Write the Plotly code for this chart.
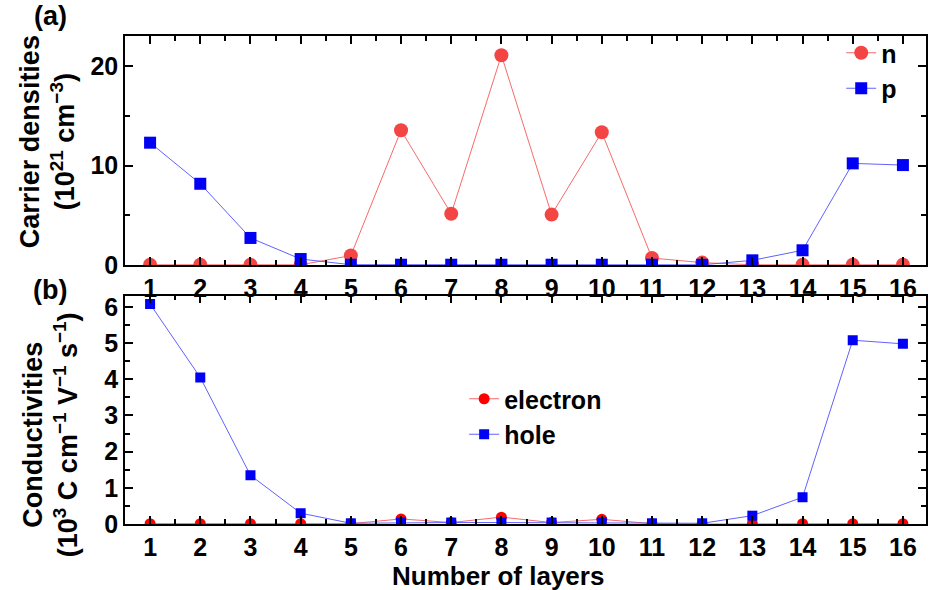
import plotly.graph_objects as go

layers = list(range(1, 17))
n_density = [0.02, 0.02, 0.02, 0.02, 0.95, 13.55, 5.15, 21.1, 5.07, 13.35, 0.7, 0.24, 0.02, 0.02, 0.02, 0.02]
p_density = [12.3, 8.17, 2.72, 0.6, 0.03, 0.03, 0.03, 0.03, 0.03, 0.03, 0.03, 0.02, 0.47, 1.48, 10.22, 10.05]
electron_cond = [0.01, 0.01, 0.01, 0.01, 0.01, 0.14, 0.04, 0.19, 0.04, 0.13, 0.01, 0.0, 0.01, 0.01, 0.01, 0.01]
hole_cond = [6.08, 4.05, 1.345, 0.30, 0.02, 0.04, 0.04, 0.04, 0.04, 0.04, 0.02, 0.02, 0.23, 0.74, 5.08, 4.98]
x_ticks = list(range(1, 17))

FONT = "Liberation Sans, Arial, sans-serif"
W, H = 929, 590
L, R, T, B = 125, 1, 36, 66
plot_w = W - L - R
plot_h = H - T - B

def py(pix):
    return (H - B - pix) / plot_h

def px(pix):
    return (pix - L) / plot_w

fig = go.Figure()

fig.add_trace(go.Scatter(x=layers, y=n_density, name="n", mode="lines+markers",
                         line=dict(color="rgba(245,90,90,0.9)", width=1),
                         marker=dict(symbol="circle", size=14, color="#F44545"),
                         xaxis="x", yaxis="y", legend="legend"))
fig.add_trace(go.Scatter(x=layers, y=p_density, name="p", mode="lines+markers",
                         line=dict(color="rgba(80,80,255,0.9)", width=1),
                         marker=dict(symbol="square", size=12, color="#0000F5"),
                         xaxis="x", yaxis="y", legend="legend"))
fig.add_trace(go.Scatter(x=layers, y=electron_cond, name="electron", mode="lines+markers",
                         line=dict(color="rgba(245,90,90,0.9)", width=1),
                         marker=dict(symbol="circle", size=11, color="#FF0000"),
                         xaxis="x2", yaxis="y2", legend="legend2"))
fig.add_trace(go.Scatter(x=layers, y=hole_cond, name="hole", mode="lines+markers",
                         line=dict(color="rgba(80,80,255,0.9)", width=1),
                         marker=dict(symbol="square", size=10, color="#0000F5"),
                         xaxis="x2", yaxis="y2", legend="legend2"))

tickfont = dict(family=FONT, size=25, color="black", weight="bold")
common_x = dict(range=[0.5, 16.46], tickmode="array", tickvals=x_ticks,
                ticktext=[str(v) for v in x_ticks], ticks="inside", ticklen=8,
                tickwidth=1.5, tickcolor="black", showline=True, linewidth=1.5,
                linecolor="black", mirror="allticks", showgrid=False, zeroline=False,
                tickfont=tickfont,
                minor=dict(ticks="inside", ticklen=5, tickwidth=1.5, tickcolor="black", dtick=0.5, tick0=0.5, showgrid=False))
common_y = dict(ticks="inside", ticklen=8, tickwidth=1.5, tickcolor="black",
                showline=True, linewidth=1.5, linecolor="black", mirror="allticks",
                showgrid=False, zeroline=False, tickfont=tickfont)

fig.update_layout(
    width=W, height=H,
    margin=dict(l=L, r=R, t=T, b=B),
    paper_bgcolor="white", plot_bgcolor="white",
    font=dict(family=FONT, color="black"),
    xaxis=dict(domain=[0, 1], anchor="y", **common_x),
    yaxis=dict(domain=[py(265), 1], anchor="x", range=[0, 23.03], tickvals=[0, 10, 20],
               minor=dict(ticks="inside", ticklen=5, tickwidth=1.5, tickcolor="black", dtick=5, tick0=0, showgrid=False),
               **common_y),
    xaxis2=dict(domain=[0, 1], anchor="y2", **common_x),
    yaxis2=dict(domain=[0, py(295.7)], anchor="x2", range=[0, 6.31], tickvals=[0, 1, 2, 3, 4, 5, 6],
                minor=dict(ticks="inside", ticklen=5, tickwidth=1.5, tickcolor="black", dtick=0.5, tick0=0, showgrid=False),
                **common_y),
    legend=dict(x=px(843), y=py(30), xanchor="left", yanchor="top",
                bgcolor="rgba(0,0,0,0)", borderwidth=0,
                font=dict(family=FONT, size=25, color="black", weight="bold"),
                itemwidth=30, tracegroupgap=0),
    legend2=dict(x=px(465), y=py(376), xanchor="left", yanchor="top",
                 bgcolor="rgba(0,0,0,0)", borderwidth=0,
                 font=dict(family=FONT, size=25, color="black", weight="bold"),
                 itemwidth=30, tracegroupgap=0),
    showlegend=True,
)

title_font = dict(family=FONT, size=27, color="black", weight="bold")
annotations = [
    dict(text="Carrier densities<br>(10<sup>21</sup> cm<sup>−3</sup>)", x=px(47), y=py(142),
         xref="paper", yref="paper", textangle=-90, showarrow=False,
         xanchor="center", yanchor="middle", font=title_font),
    dict(text="Conductivities<br>(10<sup>3</sup> C cm<sup>−1</sup> V<sup>−1</sup> s<sup>−1</sup>)", x=px(50), y=py(435),
         xref="paper", yref="paper", textangle=-90, showarrow=False,
         xanchor="center", yanchor="middle", font=title_font),
    dict(text="Number of layers", x=px(499), y=py(576), xref="paper", yref="paper",
         showarrow=False, xanchor="center", yanchor="middle", font=dict(family=FONT, size=26, color="black", weight="bold")),
    dict(text="(a)", x=px(50), y=py(16), xref="paper", yref="paper", showarrow=False,
         xanchor="center", yanchor="middle", font=dict(family=FONT, size=27, color="black", weight="bold")),
    dict(text="(b)", x=px(50), y=py(290), xref="paper", yref="paper", showarrow=False,
         xanchor="center", yanchor="middle", font=dict(family=FONT, size=27, color="black", weight="bold")),
]
fig.update_layout(annotations=annotations)

fig.write_html("out.html")
